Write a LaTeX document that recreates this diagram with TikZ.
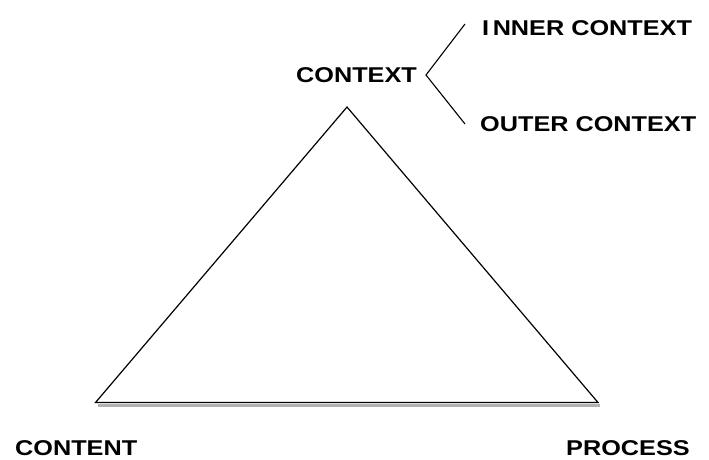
\documentclass[tikz,border=0pt]{standalone}
\usepackage{fontspec}
\setmainfont{Liberation Sans}
\usepackage{graphicx}
\newcommand{\lbltext}[1]{\scalebox{1.18}[1]{\fontsize{21.4}{24}\selectfont\bfseries #1}}
\begin{document}
\begin{tikzpicture}[x=1pt,y=-1pt,
  lbl/.style={inner sep=0pt,anchor=base west,text depth=0pt},
  edge/.style={line width=1.2pt,black,line join=miter},
  brace/.style={line width=1.1pt,black}]
\useasboundingbox (0,0) rectangle (709,459);
% triangle corners
\coordinate (apex) at (347,107);
\coordinate (bl) at (95.5,402.5);
\coordinate (br) at (598,402.5);
% shadow under the base
\coordinate (shl) at (98,405.2);
\coordinate (shr) at (600,405.2);
\draw[line width=2.6pt,gray!60] (shl) -- (shr);
\draw[edge] (bl) -- (apex) -- (br) -- cycle;
% labels
\node[lbl] (context) at (296,82) {\lbltext{CONTEXT}};
\node[lbl] (inner) at (482,35) {\lbltext{I\kern3pt NNER CONTEXT}};
\node[lbl] (outer) at (480,131) {\lbltext{OUTER CONTEXT}};
\node[lbl] (content) at (15,455) {\lbltext{CONTENT}};
\node[lbl] (process) at (566,455) {\lbltext{PROCESS}};
% branching bracket
\coordinate (bv) at (426,75);
\coordinate (bt) at (465,24);
\coordinate (bb) at (465,124);
\draw[brace] (bt) -- (bv) -- (bb);
\end{tikzpicture}
\end{document}
